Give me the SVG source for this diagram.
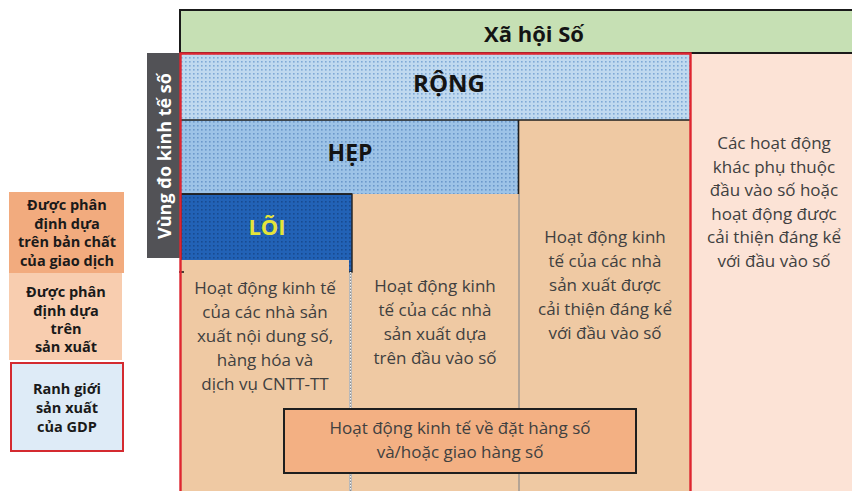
<svg xmlns="http://www.w3.org/2000/svg" width="852" height="491" viewBox="0 0 852 491">
  <defs>
    <pattern id="dotsWide" width="4" height="4" patternUnits="userSpaceOnUse">
      <rect width="4" height="4" fill="#C0D9EF"/>
      <rect x="1" y="1" width="1.6" height="1.6" fill="#7FA9D6"/>
    </pattern>
    <pattern id="dotsNarrow" width="4" height="4" patternUnits="userSpaceOnUse">
      <rect width="4" height="4" fill="#9DC3E7"/>
      <rect x="1" y="1" width="1.6" height="1.6" fill="#6C99CB"/>
    </pattern>
    <pattern id="dotsCore" width="4" height="4" patternUnits="userSpaceOnUse">
      <rect width="4" height="4" fill="#2262B6"/>
      <rect x="1" y="1" width="1.6" height="1.6" fill="#184B91"/>
    </pattern>
    <style>
      .body { font-family: "Open Sans", "Noto Sans", sans-serif; font-size: 17px; fill: #404040; text-anchor: middle; }
      .title { font-family: "Open Sans", "Noto Sans", sans-serif; font-weight: 700; fill: #141414; text-anchor: middle; }
      .legend { font-family: "Open Sans", "Noto Sans", sans-serif; font-weight: 700; font-size: 14.5px; fill: #1a1a1a; text-anchor: middle; }
      .col { fill: #EFC9A3; }
      .divider { stroke: #8C8C8C; stroke-width: 1.2; fill: none; }
      .edge { stroke: #1e1e1e; stroke-width: 1.6; fill: none; }
    </style>
  </defs>

  <!-- Legend -->
  <g id="legend-transaction">
    <rect x="9" y="192" width="115" height="81" fill="#F2AB7E"/>
    <text class="legend"><tspan x="67" y="210">Được phân</tspan><tspan x="67" y="228.5">định dựa</tspan><tspan x="67" y="247">trên bản chất</tspan><tspan x="67" y="265.5">của giao dịch</tspan></text>
  </g>
  <g id="legend-production">
    <rect x="9" y="273" width="113" height="87" fill="#F8CDAF"/>
    <text class="legend"><tspan x="66" y="297">Được phân</tspan><tspan x="66" y="316">định dựa</tspan><tspan x="66" y="334">trên</tspan><tspan x="66" y="352">sản xuất</tspan></text>
  </g>
  <g id="legend-gdp">
    <rect x="11" y="363" width="112" height="88" fill="#DEEBF7" stroke="#D42A30" stroke-width="2"/>
    <text class="legend"><tspan x="67" y="394">Ranh giới</tspan><tspan x="67" y="413">sản xuất</tspan><tspan x="67" y="432">của GDP</tspan></text>
  </g>

  <!-- Digital society band -->
  <g id="digital-society">
    <rect x="180" y="10" width="680" height="43" fill="#C6E0B4" stroke="#1a1a1a" stroke-width="2"/>
    <text class="title" x="534" y="42" font-size="22">Xã hội Số</text>
  </g>

  <!-- Other activities (outside GDP boundary) -->
  <g id="other-activities">
    <rect x="691" y="54" width="161" height="437" fill="#FCE3D6"/>
    <text class="body"><tspan x="774" y="149">Các hoạt động</tspan><tspan x="774" y="172.5">khác phụ thuộc</tspan><tspan x="774" y="196">đầu vào số hoặc</tspan><tspan x="774" y="219.5">hoạt động được</tspan><tspan x="774" y="243">cải thiện đáng kể</tspan><tspan x="774" y="266.5">với đầu vào số</tspan></text>
  </g>

  <!-- Broad scope -->
  <g id="broad">
    <rect x="181" y="54" width="510" height="66" fill="url(#dotsWide)"/>
    <text class="title" x="449" y="92" font-size="24">RỘNG</text>
  </g>

  <!-- Enhanced producers column -->
  <g id="col-enhanced">
    <rect class="col" x="519" y="120" width="172" height="371"/>
    <text class="body"><tspan x="605" y="243">Hoạt động kinh</tspan><tspan x="605" y="267">tế của các nhà</tspan><tspan x="605" y="291">sản xuất được</tspan><tspan x="605" y="315">cải thiện đáng kể</tspan><tspan x="605" y="339">với đầu vào số</tspan></text>
  </g>

  <!-- Narrow scope -->
  <g id="narrow">
    <rect x="181" y="120" width="338" height="74" fill="url(#dotsNarrow)"/>
    <text class="title" x="350" y="161" font-size="23">HẸP</text>
  </g>

  <!-- Digital-input producers column -->
  <g id="col-digital-input">
    <rect class="col" x="352" y="194" width="167" height="297"/>
    <text class="body"><tspan x="435" y="292">Hoạt động kinh</tspan><tspan x="435" y="316">tế của các nhà</tspan><tspan x="435" y="340">sản xuất dựa</tspan><tspan x="435" y="364">trên đầu vào số</tspan></text>
  </g>

  <!-- Core scope -->
  <g id="core">
    <rect x="181" y="194" width="171" height="78" fill="url(#dotsCore)" stroke="#1e1e1e" stroke-width="1.4"/>
    <text class="title" x="267" y="235" font-size="22" fill="#E4E43A" style="fill:#E4E43A">LÕI</text>
  </g>

  <!-- ICT producers column -->
  <g id="col-ict">
    <rect class="col" x="181" y="260" width="168" height="231"/>
    <text class="body"><tspan x="265" y="294">Hoạt động kinh tế</tspan><tspan x="265" y="318">của các nhà sản</tspan><tspan x="265" y="342">xuất nội dung số,</tspan><tspan x="265" y="366">hàng hóa và</tspan><tspan x="265" y="390">dịch vụ CNTT-TT</tspan></text>
  </g>

  <!-- Region borders and separators -->
  <g id="connectors">
    <line class="edge" x1="181" y1="120" x2="691" y2="120"/>
    <line class="edge" x1="518.5" y1="120" x2="518.5" y2="194"/>
    <line class="edge" x1="181" y1="194" x2="352" y2="194"/>
    <line class="divider" x1="519" y1="194" x2="519" y2="491"/>
    <line x1="350.5" y1="272" x2="350.5" y2="491" stroke="#8C8C8C" stroke-width="2.2"/>
    <line x1="350.5" y1="272" x2="350.5" y2="491" stroke="#ffffff" stroke-width="0.9" stroke-dasharray="1.5 1.5"/>
    <line class="edge" x1="179" y1="272" x2="184" y2="272"/>
  </g>

  <!-- Measurement label -->
  <g id="scope-label">
    <rect x="147" y="53" width="33" height="205" fill="#525256"/>
    <text class="title" x="0" y="0" font-size="18" transform="translate(171 156) rotate(-90)" style="fill:#ffffff">Vùng đo kinh tế số</text>
  </g>

  <!-- GDP production boundary -->
  <g id="gdp-boundary">
    <path d="M180.5 500 V53.5 H690.5 V500" fill="none" stroke="#DE2630" stroke-width="2.4"/>
  </g>

  <!-- Digital ordering / delivery -->
  <g id="digital-trade">
    <rect x="284" y="409" width="352" height="64" fill="#F3B083" stroke="#1e1e1e" stroke-width="2"/>
    <text class="body"><tspan x="460" y="434">Hoạt động kinh tế về đặt hàng số</tspan><tspan x="460" y="458">và/hoặc giao hàng số</tspan></text>
  </g>
</svg>
